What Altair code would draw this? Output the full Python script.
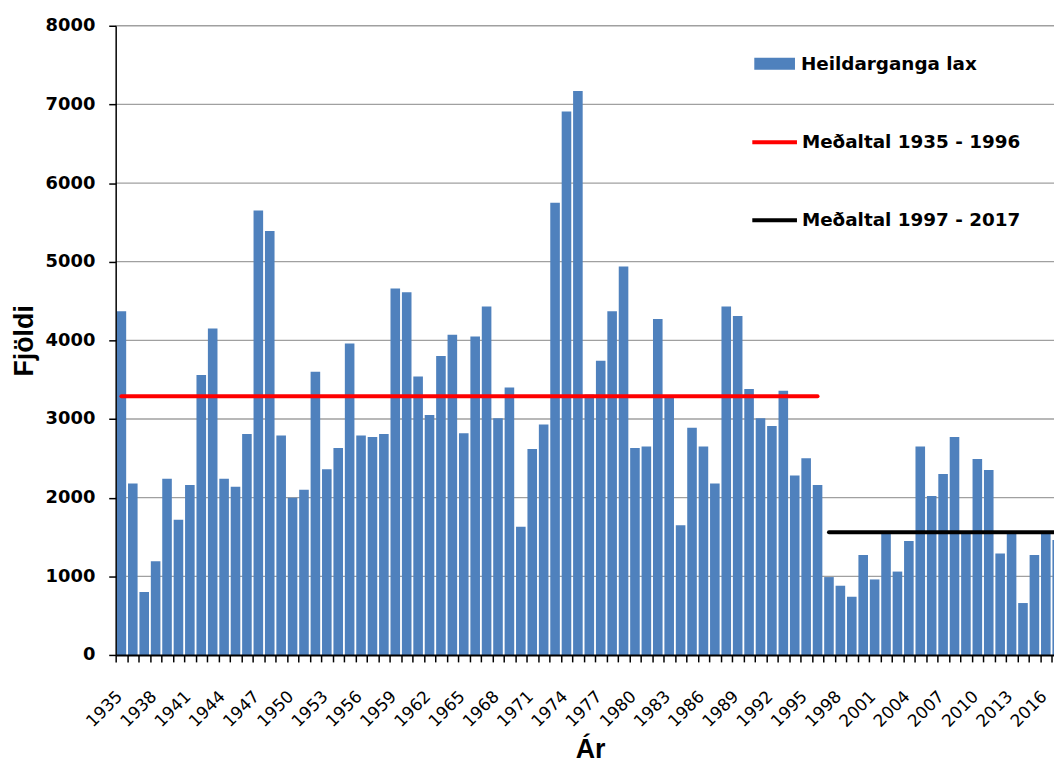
import altair as alt
import pandas as pd

# ---- data ----
years = list(range(1935, 2018))
fish = [4370, 2180, 800, 1190, 2240, 1720, 2160, 3560, 4150, 2240,
        2140, 2810, 5650, 5390, 2790, 2000, 2100, 3600, 2360, 2630,
        3960, 2790, 2770, 2810, 4660, 4610, 3540, 3050, 3800, 4070,
        2820, 4050, 4430, 3010, 3400, 1630, 2620, 2930, 5750, 6910,
        7170, 3310, 3740, 4370, 4940, 2630, 2650, 4270, 3270, 1650,
        2890, 2650, 2180, 4430, 4310, 3380, 3010, 2910, 3360, 2280,
        2500, 2160,
        990, 880, 740, 1270, 960, 1540, 1060, 1450, 2650, 2020,
        2300, 2770, 1540, 2490, 2350, 1290, 1540, 660, 1270, 1540, 1460]
series_name = "Heildarganga lax"
avg_names = ["Meðaltal 1935 - 1996", "Meðaltal 1997 - 2017"]
avg_from = [1935, 1997]
avg_to = [1996, 2017]
avg_values = [3290, 1560]
avg_colors = ["#ff0000", "#000000"]
y_ticks = [0, 1000, 2000, 3000, 4000, 5000, 6000, 7000, 8000]
label_years = list(range(1935, 2017, 3))

# ---- layout ----
PX_PER_YEAR = 11.5
PLOT_W = 945.5
PLOT_H = 634
x_lo = 1934.5
x_hi = x_lo + PLOT_W / PX_PER_YEAR
tick_bounds = [y - 0.5 for y in years if y - 0.5 <= x_hi]

df = pd.DataFrame({"year": years, "fish": fish, "series": series_name})
df_avg = pd.DataFrame({"name": avg_names, "start": avg_from, "end": avg_to, "value": avg_values})
df_grid = pd.DataFrame({"tick": y_ticks[1:]})

xscale = alt.Scale(domain=[x_lo, x_hi], nice=False, zero=False)
yscale = alt.Scale(domain=[0, 8000], nice=False)

y_axis = alt.Axis(values=y_ticks, format="d", labelFont="DejaVu Sans",
                  labelFontWeight="bold", labelFontSize=18, labelColor="black",
                  labelPadding=14, tickSize=7, tickColor="black", tickWidth=1.5,
                  domainColor="black", domainWidth=1.5, grid=False,
                  title="Fjöldi", titleFont="Liberation Sans",
                  titleFontSize=27, titleFontWeight="bold", titleColor="black",
                  titleAngle=-90, titleX=-83.5, titleY=PLOT_H / 2,
                  titleBaseline="alphabetic", titleAlign="center", zindex=1)

grid = alt.Chart(df_grid).mark_rule(color="#a0a0a0", strokeWidth=1.3).encode(
    x=alt.X("gx:Q", scale=xscale, axis=None),
    x2="gx2:Q",
    y=alt.Y("tick:Q", scale=yscale, axis=y_axis),
).transform_calculate(gx=str(x_lo), gx2=str(x_hi))

bars = alt.Chart(df).transform_calculate(
    x0="datum.year - 0.42", x1="datum.year + 0.42"
).mark_bar(clip=True, color="#4f81bd").encode(
    x=alt.X("x0:Q", scale=xscale,
            axis=alt.Axis(values=tick_bounds, labels=False, ticks=True, tickSize=7,
                          tickColor="black", tickWidth=1.5, domainColor="black",
                          domainWidth=2, grid=False, title=None, orient="bottom", zindex=1)),
    x2="x1:Q",
    y=alt.Y("fish:Q", scale=yscale, axis=y_axis),
    y2=alt.datum(0),
    color=alt.Color("series:N", scale=alt.Scale(domain=[series_name], range=["#4f81bd"]),
                    legend=alt.Legend(orient="none", legendX=643.5, legendY=17.8, title=None,
                                      symbolType="M-1,-0.3H1V0.3H-1Z", symbolSize=1681,
                                      symbolStrokeWidth=0, labelFont="DejaVu Sans",
                                      labelFontWeight="bold", labelFontSize=18.5,
                                      labelColor="black", labelOffset=6, padding=0,
                                      labelLimit=0)),
)

rules = alt.Chart(df_avg).mark_rule(strokeWidth=4, strokeCap="round", clip=True).encode(
    x=alt.X("start:Q", scale=xscale,
            axis=alt.Axis(values=label_years, labelAngle=-45, labelAlign="right",
                          labelBaseline="middle", labelPadding=32, ticks=False, domain=False,
                          grid=False, labelFont="DejaVu Sans", labelFontSize=17,
                          labelColor="black", labelOverlap=False, labelFlush=False,
                          labelBound=False, format="d", title="Ár", offset=7,
                          labelOffset=-2,
                          titleFont="Liberation Sans", titleFontSize=27,
                          titleFontWeight="bold", titleColor="black", titleX=478,
                          titleY=96, titleBaseline="alphabetic", titleAlign="center",
                          orient="bottom")),
    x2="end:Q",
    y=alt.Y("value:Q", scale=yscale, axis=y_axis),
    stroke=alt.Stroke("name:N", scale=alt.Scale(domain=avg_names, range=avg_colors),
                      legend=alt.Legend(orient="none", legendX=639.5, legendY=92.9, title=None,
                                        symbolType="stroke", symbolSize=2025,
                                        symbolStrokeWidth=4, rowPadding=44.6,
                                        labelFont="DejaVu Sans", labelFontWeight="bold",
                                        labelFontSize=18.5, labelColor="black",
                                        labelOffset=3, padding=0, labelLimit=0)),
)

chart = alt.layer(grid, bars, rules).resolve_axis(x="independent").resolve_scale(
    color="independent", stroke="independent"
).properties(
    width=PLOT_W, height=PLOT_H,
    autosize=alt.AutoSizeParams(type="none"),
    padding={"left": 108.5, "top": 15, "right": 0, "bottom": 107},
    background="white",
).configure_view(stroke=None)

chart.save("out.html", embed_options={"renderer": "svg", "actions": False})
